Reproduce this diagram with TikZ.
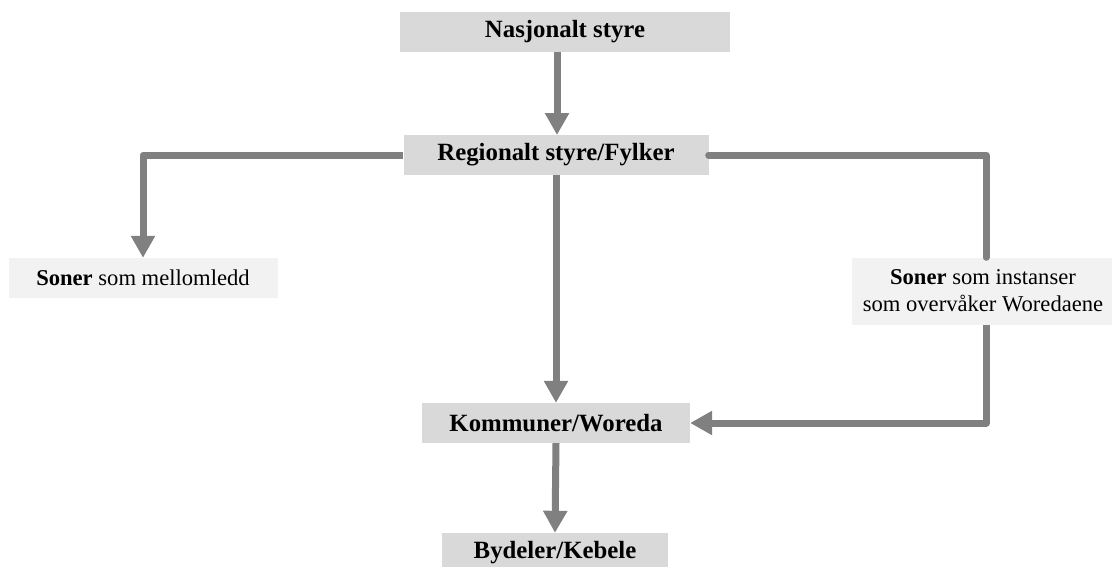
\documentclass[tikz,border=0pt]{standalone}
\usepackage{fontspec}
\setmainfont{Liberation Serif}
\usetikzlibrary{arrows.meta}
\definecolor{boxgray}{HTML}{D9D9D9}
\definecolor{lightbox}{HTML}{F2F2F2}
\definecolor{linegray}{HTML}{808080}
\tikzset{
  mainbox/.style={fill=boxgray, inner sep=0pt, font=\fontsize{24.8}{28}\selectfont\bfseries, anchor=center},
  sidebox/.style={fill=lightbox, inner sep=0pt, font=\fontsize{22.6}{27}\selectfont, align=center, anchor=center},
  conn/.style={draw=linegray, line width=7pt, line join=round},
  arr/.style={conn, -{Triangle[width=23pt,length=22pt]}},
  plain/.style={conn, line cap=round}
}
\begin{document}
\begin{tikzpicture}[x=1pt,y=-1pt]
\useasboundingbox (0,0) rectangle (1112,566);
\clip (0,0) rectangle (1112,566);
\node[mainbox, minimum width=330pt, minimum height=40pt] (nat) at (565,32) {Nasjonalt styre};
\node[mainbox, minimum width=305pt, minimum height=40pt] (reg) at (556,155) {Regionalt styre/Fylker};
\node[sidebox, minimum width=269pt, minimum height=40pt] (sm) at (143,278) {\textbf{Soner} som mellomledd};
\node[sidebox, minimum width=262pt, minimum height=67pt] (si) at (983,291) {\textbf{Soner} som instanser\\som overvåker Woredaene};
\node[mainbox, minimum width=268pt, minimum height=40pt] (kom) at (556,423) {Kommuner/Woreda};
\node[mainbox, minimum width=226pt, minimum height=40pt] (byd) at (555,553) {Bydeler/Kebele};
\coordinate (rc) at (986,155);
\coordinate (rb) at (986,423);
\draw[arr] (557,52) -- (557,135);
\draw[arr] (reg.west) -| (sm.north);
\draw[plain] (reg.east) -- (rc) -- (rc |- si.north);
\draw[arr] (rc |- si.south) -- (rb) -- (kom.east);
\draw[arr] (reg.south) -- (kom.north);
\draw[arr] (kom.south) -- (byd.north);
\end{tikzpicture}
\end{document}
